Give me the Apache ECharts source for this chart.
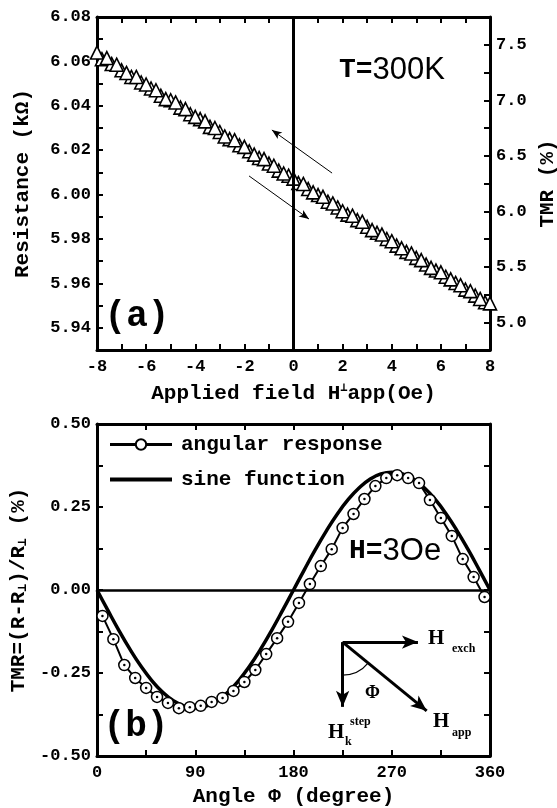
<!DOCTYPE html>
<html>
<head>
<meta charset="utf-8">
<script src="https://cdn.jsdelivr.net/npm/echarts@6/dist/echarts.min.js"></script>
<style>
  html, body { margin: 0; padding: 0; background: #fff; }
  #main { width: 557px; height: 808px; }
</style>
</head>
<body>
<div id="main"></div>
<script>
// (a) resistance vs applied field, two sweeps
var fieldUp = [-8, -7.6, -7.2, -6.8, -6.4, -6, -5.6, -5.2, -4.8, -4.4, -4, -3.6, -3.2, -2.8, -2.4, -2, -1.6, -1.2, -0.8, -0.4,
  0, 0.4, 0.8, 1.2, 1.6, 2, 2.4, 2.8, 3.2, 3.6, 4, 4.4, 4.8, 5.2, 5.6, 6, 6.4, 6.8, 7.2, 7.6, 8];
var resUp = [6.0640, 6.0615, 6.0585, 6.0548, 6.0530, 6.0496, 6.0470, 6.0430, 6.0415, 6.0385,
  6.0350, 6.0330, 6.0300, 6.0262, 6.0245, 6.0215, 6.0180, 6.0160, 6.0130, 6.0095,
  6.0072, 6.0048, 6.0010, 5.9990, 5.9960, 5.9925, 5.9905, 5.9878, 5.9840, 5.9820,
  5.9790, 5.9758, 5.9735, 5.9705, 5.9670, 5.9650, 5.9618, 5.9592, 5.9565, 5.9530, 5.9510];
var fieldDown = [-7.8, -7.4, -7, -6.6, -6.2, -5.8, -5.4, -5, -4.6, -4.2, -3.8, -3.4, -3, -2.6, -2.2, -1.8, -1.4, -1, -0.6, -0.2,
  0.2, 0.6, 1, 1.4, 1.8, 2.2, 2.6, 3, 3.4, 3.8, 4.2, 4.6, 5, 5.4, 5.8, 6.2, 6.6, 7, 7.4, 7.8];
var resDown = [6.0610, 6.0588, 6.0560, 6.0530, 6.0505, 6.0478, 6.0445, 6.0425, 6.0392, 6.0362,
  6.0340, 6.0305, 6.0282, 6.0250, 6.0222, 6.0195, 6.0165, 6.0140, 6.0108, 6.0085,
  6.0052, 6.0025, 5.9998, 5.9968, 5.9942, 5.9910, 5.9885, 5.9855, 5.9828, 5.9800,
  5.9770, 5.9742, 5.9715, 5.9685, 5.9658, 5.9630, 5.9602, 5.9572, 5.9545, 5.9515];
// sweep-direction arrows in (a): [tail, head] in data units
var arrowBack = [[1.57, 6.0097], [-0.88, 6.0291]];
var arrowFwd = [[-1.81, 6.0084], [0.63, 5.9890]];

// (b) angular response and sine fit
var angles = [5, 15, 25, 35, 45, 55, 65, 75, 85, 95, 105, 115, 125, 135, 145, 155, 165, 175,
  185, 195, 205, 215, 225, 235, 245, 255, 265, 275, 285, 295, 305, 315, 325, 335, 345, 355];
var tmrAngular = [-0.078, -0.148, -0.226, -0.265, -0.295, -0.322, -0.340, -0.356, -0.353, -0.349, -0.337, -0.325,
  -0.304, -0.277, -0.241, -0.193, -0.145, -0.096, -0.039, 0.018, 0.072, 0.123, 0.187, 0.229,
  0.274, 0.313, 0.337, 0.346, 0.337, 0.322, 0.271, 0.217, 0.163, 0.093, 0.039, -0.021];
var sineAngles = [0, 10, 20, 30, 40, 50, 60, 70, 80, 90, 100, 110, 120, 130, 140, 150, 160, 170, 180,
  190, 200, 210, 220, 230, 240, 250, 260, 270, 280, 290, 300, 310, 320, 330, 340, 350, 360];
var sineTmr = [0, -0.0616, -0.1214, -0.1775, -0.2282, -0.2719, -0.3074, -0.3336, -0.3496, -0.355,
  -0.3496, -0.3336, -0.3074, -0.2719, -0.2282, -0.1775, -0.1214, -0.0616, 0,
  0.0616, 0.1214, 0.1775, 0.2282, 0.2719, 0.3074, 0.3336, 0.3496, 0.355,
  0.3496, 0.3336, 0.3074, 0.2719, 0.2282, 0.1775, 0.1214, 0.0616, 0];
// field-geometry sketch in (b), data units
var sketchOrigin = [225, -0.157];
var sketchExch = [294, -0.157];
var sketchK = [225, -0.352];
var sketchApp = [302, -0.364];

function zip(xs, ys) {
  return xs.map(function(x, i) { return [x, ys[i]]; });
}

var MONO = '"Liberation Mono", "DejaVu Sans Mono", monospace';
var tickFont = { color: '#000', fontFamily: MONO, fontWeight: 'bold', fontSize: 17 };
var nameFont = {
  color: '#000', fontFamily: MONO, fontWeight: 'bold', fontSize: 21,
  rich: {
    sup: { fontFamily: MONO, fontWeight: 'bold', fontSize: 12, verticalAlign: 'top', padding: [0, 0, 12, 0] },
    sub: { fontFamily: MONO, fontWeight: 'bold', fontSize: 13, verticalAlign: 'bottom', padding: [8, 0, 0, 0] }
  }
};

function frameAxis(extra) {
  var base = {
    axisLine: { show: true, onZero: false, lineStyle: { color: '#000', width: 3 } },
    axisTick: { show: true, inside: true, length: 6, lineStyle: { color: '#000', width: 2 } },
    axisLabel: { show: false },
    splitLine: { show: false }
  };
  return Object.assign(base, extra);
}

function plainMark(tail, head, width, size) {
  return [
    { coord: tail, symbol: 'none', lineStyle: { color: '#000', width: width, type: 'solid' } },
    { coord: head, symbol: 'arrow', symbolSize: size }
  ];
}

var chart = echarts.init(document.getElementById('main'));

chart.setOption({
  animation: false,
  backgroundColor: '#fff',
  grid: [
    { left: 97, right: 67, top: 17, height: 333, outerBoundsMode: 'none' },
    { left: 97, right: 67, top: 424, height: 332, outerBoundsMode: 'none' }
  ],
  legend: {
    data: [
      { name: 'angular response', lineStyle: { width: 3 } },
      { name: 'sine function', itemStyle: { opacity: 0 }, lineStyle: { width: 4 } }
    ],
    orient: 'vertical',
    left: 103,
    top: 429,
    itemWidth: 62,
    itemHeight: 13,
    itemGap: 14,
    textStyle: { color: '#000', fontFamily: MONO, fontWeight: 'bold', fontSize: 21, padding: [0, 0, 0, 4] }
  },
  xAxis: [
    frameAxis({
      type: 'value', gridIndex: 0, position: 'bottom', min: -8, max: 8, interval: 1,
      name: 'Applied field H{sup|⊥}app(Oe)', nameLocation: 'middle', nameGap: 32, nameTextStyle: nameFont,
      axisLabel: Object.assign({ show: true, margin: 8, formatter: function(v) {
        return v % 2 === 0 ? String(v) : '';
      } }, tickFont)
    }),
    frameAxis({ type: 'value', gridIndex: 0, position: 'top', min: -8, max: 8, interval: 1 }),
    frameAxis({
      type: 'value', gridIndex: 1, position: 'bottom', min: 0, max: 360, interval: 45,
      name: 'Angle Φ (degree)', nameLocation: 'middle', nameGap: 30, nameTextStyle: nameFont,
      axisLabel: Object.assign({ show: true, margin: 8, formatter: function(v) {
        return v % 90 === 0 ? String(v) : '';
      } }, tickFont)
    }),
    frameAxis({ type: 'value', gridIndex: 1, position: 'top', min: 0, max: 360, interval: 45 })
  ],
  yAxis: [
    frameAxis({
      type: 'value', gridIndex: 0, position: 'left', min: 5.93, max: 6.08, interval: 0.01,
      name: 'Resistance (kΩ)', nameLocation: 'middle', nameGap: 64, nameRotate: 90, nameTextStyle: nameFont,
      axisLabel: Object.assign({ show: true, margin: 6, formatter: function(v) {
        var r = Math.round(v * 100);
        return r % 2 === 0 ? (r / 100).toFixed(2) : '';
      } }, tickFont)
    }),
    frameAxis({
      type: 'value', gridIndex: 0, position: 'right', min: 4.75, max: 7.75, interval: 0.25,
      name: 'TMR (%)', nameLocation: 'middle', nameGap: 46, nameRotate: 90, nameTextStyle: nameFont,
      axisLabel: Object.assign({ show: true, margin: 6, formatter: function(v) {
        var r = Math.round(v * 100);
        return r % 50 === 0 ? (r / 100).toFixed(1) : '';
      } }, tickFont)
    }),
    frameAxis({
      type: 'value', gridIndex: 1, position: 'left', min: -0.5, max: 0.5, interval: 0.125,
      name: 'TMR=(R-R{sub|⊥})/R{sub|⊥} (%)', nameLocation: 'middle', nameGap: 64, nameRotate: 90, nameTextStyle: nameFont,
      axisLabel: Object.assign({ show: true, margin: 6, formatter: function(v) {
        var r = Math.round(v * 1000);
        return r % 250 === 0 ? (r / 1000).toFixed(2) : '';
      } }, tickFont)
    }),
    frameAxis({ type: 'value', gridIndex: 1, position: 'right', min: -0.5, max: 0.5, interval: 0.125 })
  ],
  series: [
    {
      name: 'sweep up', type: 'scatter', xAxisIndex: 0, yAxisIndex: 0,
      data: zip(fieldUp, resUp), symbol: 'triangle', symbolSize: 13, z: 3,
      itemStyle: { color: '#fff', borderColor: '#000', borderWidth: 1.6, opacity: 1 },
      markLine: {
        silent: true, symbol: ['none', 'none'], label: { show: false },
        lineStyle: { color: '#000', width: 3, type: 'solid' },
        data: [
          { xAxis: 0 },
          plainMark(arrowBack[0], arrowBack[1], 1, [6, 10]),
          plainMark(arrowFwd[0], arrowFwd[1], 1, [6, 10])
        ]
      }
    },
    {
      name: 'sweep down', type: 'scatter', xAxisIndex: 0, yAxisIndex: 0,
      data: zip(fieldDown, resDown), symbol: 'triangle', symbolSize: 13, z: 2,
      itemStyle: { color: '#fff', borderColor: '#000', borderWidth: 1.6, opacity: 1 }
    },
    {
      name: 'sine function', type: 'line', xAxisIndex: 2, yAxisIndex: 2,
      data: zip(sineAngles, sineTmr), smooth: true, symbol: 'none', z: 2,
      lineStyle: { color: '#000', width: 3.5 }, itemStyle: { color: '#000' },
      markLine: {
        silent: true, symbol: ['none', 'none'], label: { show: false },
        lineStyle: { color: '#000', width: 2.5, type: 'solid' },
        data: [
          { yAxis: 0 },
          plainMark(sketchOrigin, sketchExch, 3, [10, 16]),
          plainMark(sketchOrigin, sketchK, 3, [10, 16]),
          plainMark(sketchOrigin, sketchApp, 3, [10, 16])
        ]
      }
    },
    {
      name: 'angular response', type: 'line', xAxisIndex: 2, yAxisIndex: 2,
      data: zip(angles, tmrAngular), symbol: 'circle', symbolSize: 11, z: 3,
      lineStyle: { color: '#000', width: 2 },
      itemStyle: { color: '#fff', borderColor: '#000', borderWidth: 1.5 }
    },
    {
      name: 'dots', type: 'scatter', xAxisIndex: 2, yAxisIndex: 2, silent: true,
      data: zip(angles, tmrAngular), symbol: 'circle', symbolSize: 2.5, z: 4,
      itemStyle: { color: '#000', opacity: 1 }
    }
  ]
});

// text annotations and the angle arc
var o = chart.convertToPixel({ gridIndex: 1 }, sketchOrigin);
var SERIF = '"Liberation Serif", "DejaVu Serif", serif';
var SANS = '"Liberation Sans", Arial, sans-serif';
function txt(x, y, text, font, align) {
  return {
    type: 'text', x: x, y: y, z: 50,
    style: { text: text, font: font, fill: '#000', align: align || 'left', verticalAlign: 'middle' }
  };
}
function richTxt(x, y, text) {
  return {
    type: 'text', x: x, y: y, z: 50,
    style: {
      text: text, fill: '#000', align: 'left', verticalAlign: 'middle',
      rich: {
        m: { fontFamily: MONO, fontWeight: 'bold', fontSize: 28 },
        s: { fontFamily: SANS, fontSize: 31 }
      }
    }
  };
}

chart.setOption({
  graphic: [
    richTxt(339, 70, '{m|T=}{s|300K}'),
    richTxt(349, 551, '{m|H=}{s|3Oe}'),
    txt(137, 317, '(a)', 'bold 36px ' + MONO, 'center'),
    txt(136, 727, '(b)', 'bold 36px ' + MONO, 'center'),
    txt(428, 639, 'H', 'bold 21px ' + SERIF),
    txt(452, 649, 'exch', 'bold 12px ' + SERIF),
    txt(328, 733, 'H', 'bold 21px ' + SERIF),
    txt(345, 742, 'k', 'bold 12px ' + SERIF),
    txt(350, 722, 'step', 'bold 12px ' + SERIF),
    txt(433, 722, 'H', 'bold 21px ' + SERIF),
    txt(452, 733, 'app', 'bold 12px ' + SERIF),
    txt(365, 693, 'Φ', 'bold 18px ' + SERIF),
    {
      type: 'arc', z: 50,
      shape: { cx: o[0], cy: o[1], r: 33, startAngle: Math.PI * 39 / 180, endAngle: Math.PI / 2, clockwise: true },
      style: { stroke: '#000', lineWidth: 1.2, fill: null }
    }
  ]
});
</script>
</body>
</html>
